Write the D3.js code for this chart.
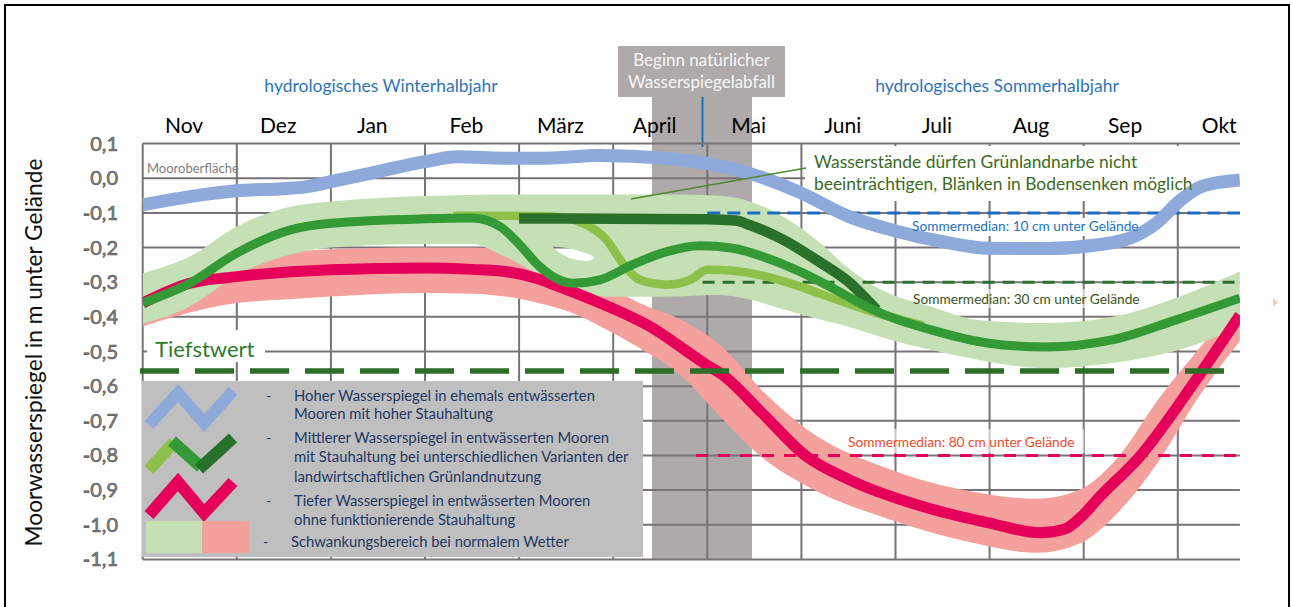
<!DOCTYPE html>
<html>
<head>
<meta charset="utf-8">
<script src="https://cdn.jsdelivr.net/npm/d3@7"></script>
<style>
  html, body { margin: 0; padding: 0; background: #fff; }
  svg { display: block; font-family: Lato, "Open Sans", sans-serif; }
</style>
</head>
<body>
<svg id="viz"></svg>
<script>
// ---- data (month position: 0 = start of Nov, value in m) ----
const months = ["Nov", "Dez", "Jan", "Feb", "März", "April", "Mai", "Juni", "Juli", "Aug", "Sep", "Okt"];
const yTicks = [0.1, 0, -0.1, -0.2, -0.3, -0.4, -0.5, -0.6, -0.7, -0.8, -0.9, -1.0, -1.1];

const blueLine = [[0, -0.077], [0.5, -0.053], [1, -0.036], [1.5, -0.03], [1.75, -0.024], [2, -0.01],
  [2.5, 0.019], [3, 0.048], [3.35, 0.062], [3.85, 0.058], [4.3, 0.058], [4.85, 0.066], [5.55, 0.058],
  [6, 0.043], [6.45, 0.014], [7, -0.043], [7.5, -0.11], [8, -0.152], [8.5, -0.183], [9, -0.202],
  [9.6, -0.203], [10.15, -0.192], [10.5, -0.172], [10.77, -0.13], [11.03, -0.063], [11.25, -0.024], [11.66, -0.005]];

const midGreenLine = [[0, -0.36], [0.5, -0.303], [1, -0.216], [1.57, -0.149], [2, -0.13], [3, -0.117],
  [3.5, -0.115], [3.8, -0.14], [4.0, -0.19], [4.2, -0.25], [4.36, -0.284], [4.57, -0.303], [4.86, -0.293],
  [5.2, -0.25], [5.57, -0.212], [5.92, -0.195], [6.27, -0.202], [6.63, -0.23], [6.98, -0.269],
  [7.33, -0.317], [7.69, -0.37], [7.85, -0.39], [8.37, -0.437], [8.99, -0.476], [9.6, -0.487],
  [10.31, -0.466], [10.99, -0.408], [11.66, -0.346]];

const lightGreenLine = [[3.3, -0.108], [3.8, -0.108], [4.33, -0.11], [4.68, -0.13], [4.93, -0.178],
  [5.1, -0.245], [5.28, -0.293], [5.57, -0.307], [5.82, -0.293], [6.0, -0.264], [6.27, -0.267],
  [6.63, -0.284], [6.98, -0.312], [7.33, -0.346], [7.69, -0.38], [8.05, -0.408], [8.3, -0.425]];

const darkGreenLine = [[4.0, -0.116], [5.0, -0.117], [6.0, -0.118], [6.3, -0.122], [6.45, -0.135],
  [6.81, -0.178], [7.16, -0.236], [7.52, -0.303], [7.73, -0.36], [7.8, -0.38]];

const redLine = [[0, -0.36], [0.5, -0.303], [1, -0.284], [2, -0.264], [3, -0.259], [3.5, -0.263],
  [3.85, -0.269], [4.2, -0.29], [4.33, -0.303], [4.86, -0.36], [5.39, -0.428], [6.0, -0.54],
  [6.15, -0.565], [6.58, -0.677], [7.05, -0.802], [7.5, -0.869], [8.4, -0.956], [9.0, -0.995],
  [9.54, -1.023], [9.8, -1.012], [10.0, -0.97], [10.15, -0.925], [10.6, -0.802], [11.17, -0.591],
  [11.66, -0.395]];

// bands: [month, upper, lower]
const greenBand = [[0, -0.274, -0.42], [0.5, -0.226, -0.37], [1, -0.139, -0.28], [1.57, -0.082, -0.22],
  [2, -0.067, -0.2], [3, -0.051, -0.19], [3.5, -0.048, -0.19], [3.8, -0.047, -0.22], [4.15, -0.047, -0.27],
  [4.5, -0.047, -0.332], [5.04, -0.047, -0.342], [5.57, -0.047, -0.342], [6.1, -0.05, -0.337],
  [6.45, -0.067, -0.35], [6.8, -0.11, -0.378], [7.16, -0.178, -0.405], [7.52, -0.264, -0.43],
  [7.87, -0.325, -0.46], [8.37, -0.37, -0.495], [8.9, -0.41, -0.525], [9.6, -0.418, -0.548],
  [10.31, -0.4, -0.533], [11.02, -0.341, -0.495], [11.66, -0.269, -0.43]];
const greenBandHole = [[4.363, -0.197], [4.576, -0.205], [4.753, -0.221], [4.796, -0.231],
  [4.718, -0.239], [4.541, -0.231], [4.417, -0.212]];

const redBand = [[0, -0.31, -0.428], [0.33, -0.29, -0.40], [1, -0.24, -0.36], [1.5, -0.215, -0.35],
  [2, -0.205, -0.341], [3, -0.2, -0.331], [3.5, -0.2, -0.333], [3.85, -0.207, -0.341], [4.2, -0.23, -0.36],
  [4.57, -0.27, -0.389], [4.93, -0.31, -0.437], [5.28, -0.36, -0.49], [5.73, -0.41, -0.572],
  [6.17, -0.49, -0.697], [6.61, -0.62, -0.812], [7.06, -0.725, -0.889], [7.94, -0.84, -0.985],
  [8.82, -0.905, -1.052], [9.5, -0.925, -1.081], [9.95, -0.9, -1.055], [10.38, -0.8, -0.96],
  [10.8, -0.635, -0.815], [11.2, -0.5, -0.64], [11.66, -0.35, -0.47]];

const medianValues = [-0.1, -0.3, -0.8];
const medianStart = [6.0, 5.95, 5.88];
const medianLabels = ["Sommermedian: 10 cm unter Gelände", "Sommermedian: 30 cm unter Gelände", "Sommermedian: 80 cm unter Gelände"];
const tiefstwert = -0.556;

const legendItems = [
  ["Hoher Wasserspiegel in ehemals entwässerten", "Mooren mit hoher Stauhaltung"],
  ["Mittlerer Wasserspiegel in entwässerten Mooren", "mit Stauhaltung bei unterschiedlichen Varianten der", "landwirtschaftlichen Grünlandnutzung"],
  ["Tiefer Wasserspiegel in entwässerten Mooren", "ohne funktionierende Stauhaltung"],
  ["Schwankungsbereich bei normalem Wetter"]
];

// ---- setup ----
const width = 1293, height = 607;
const svg = d3.select("#viz").attr("width", width).attr("height", height)
  .attr("viewBox", `0 0 ${width} ${height}`);

const x = d3.scaleLinear().domain([0, 12]).range([142.7, 1271.9]);
const y = d3.scaleLinear().domain([0.1, -1.1]).range([143.6, 559.4]);
const xEnd = 11.66;

const fmt = d3.formatLocale({decimal: ",", thousands: ".", grouping: [3], currency: ["", "€"], minus: "-"}).format(".1f");

const gridColor = "#777377";

svg.append("defs").append("clipPath").attr("id", "plotClip")
  .append("rect").attr("x", x(0)).attr("y", 90).attr("width", x(xEnd) - x(0)).attr("height", 500);

// frame
svg.append("rect").attr("x", 5).attr("y", 5).attr("width", 1284).attr("height", 620)
  .attr("fill", "#fff").attr("stroke", "#000").attr("stroke-width", 2);

// natural water level drop marker
svg.append("rect").attr("x", 652).attr("y", 97).attr("width", 100).attr("height", y(-1.1) - 97)
  .attr("fill", "#aeaaaa");
svg.append("rect").attr("x", 618).attr("y", 46).attr("width", 167).attr("height", 51)
  .attr("fill", "#aeaaaa");
svg.append("text").attr("x", 701.5).attr("y", 65.5).attr("text-anchor", "middle")
  .attr("font-size", 17).attr("fill", "#f7f7f7").text("Beginn natürlicher");
svg.append("text").attr("x", 701.5).attr("y", 87.5).attr("text-anchor", "middle")
  .attr("font-size", 17).attr("fill", "#f7f7f7").text("Wasserspiegelabfall");
svg.append("line").attr("x1", 702.5).attr("x2", 702.5).attr("y1", 97).attr("y2", 147)
  .attr("stroke", "#1f6fc0").attr("stroke-width", 2);

// grid
const grid = svg.append("g").attr("stroke", gridColor).attr("stroke-width", 2);
grid.selectAll("line.h").data(yTicks).join("line").attr("class", "h")
  .attr("x1", x(0)).attr("x2", x(xEnd)).attr("y1", d => y(d)).attr("y2", d => y(d));
grid.selectAll("line.v").data(d3.range(12)).join("line").attr("class", "v")
  .attr("x1", d => x(d)).attr("x2", d => x(d)).attr("y1", y(0.1)).attr("y2", y(-1.1));

// white boxes behind annotations
const boxes = svg.append("g").attr("fill", "#fff");
boxes.append("rect").attr("x", 147).attr("y", 330).attr("width", 118).attr("height", 32);
boxes.append("rect").attr("x", 805).attr("y", 146).attr("width", 435).attr("height", 55);
boxes.append("rect").attr("x", 906).attr("y", 218).attr("width", 236).attr("height", 18);
boxes.append("rect").attr("x", 906).attr("y", 289).attr("width", 236).attr("height", 19).attr("opacity", 0.6);
boxes.append("rect").attr("x", 846).attr("y", 429).attr("width", 238).attr("height", 24).attr("opacity", 0.6);

const plot = svg.append("g").attr("clip-path", "url(#plotClip)");

// bands
const bandArea = d3.area().x(d => x(d[0])).y0(d => y(d[2])).y1(d => y(d[1])).curve(d3.curveMonotoneX);
const holeLine = d3.line().x(d => x(d[0])).y(d => y(d[1])).curve(d3.curveCardinalClosed.tension(0.3));
plot.append("path").attr("d", bandArea(redBand)).attr("fill", "#f4a09d");
plot.append("path").attr("d", bandArea(greenBand) + holeLine(greenBandHole))
  .attr("fill", "#c5e0b4").attr("fill-rule", "evenodd");

// summer median dashed lines
const medianColors = ["#1a6cc0", "#2e7030", "#e5005a"];
const medianDash = ["13,7", "12,8", "12,10"];
plot.selectAll("line.median").data(medianValues).join("line").attr("class", "median")
  .attr("x1", (d, i) => x(medianStart[i])).attr("x2", x(xEnd))
  .attr("y1", d => y(d)).attr("y2", d => y(d))
  .attr("stroke", (d, i) => medianColors[i]).attr("stroke-width", 3)
  .attr("stroke-dasharray", (d, i) => medianDash[i]);

// annotation texts
const labelColors = ["#2272c3", "#375623", "#ee4b2b"];
const labelPos = [[912, 231], [913, 303.5], [848, 447]];
svg.selectAll("text.median").data(medianLabels).join("text").attr("class", "median")
  .attr("x", (d, i) => labelPos[i][0]).attr("y", (d, i) => labelPos[i][1])
  .attr("font-size", 13.7).attr("fill", (d, i) => labelColors[i]).text(d => d);

svg.append("text").attr("x", 814).attr("y", 168).attr("font-size", 17.4).attr("fill", "#3b6b23")
  .text("Wasserstände dürfen Grünlandnarbe nicht");
svg.append("text").attr("x", 814).attr("y", 190).attr("font-size", 17.4).attr("fill", "#3b6b23")
  .text("beeinträchtigen, Blänken in Bodensenken möglich");
svg.append("line").attr("x1", 631).attr("y1", 199).attr("x2", 806).attr("y2", 168)
  .attr("stroke", "#4e8a2e").attr("stroke-width", 1.6);

// curves
const curve = d3.line().x(d => x(d[0])).y(d => y(d[1])).curve(d3.curveMonotoneX);
const series = [
  {data: blueLine, color: "#8eaadb", w: 13},
  {data: redLine, color: "#e5005a", w: 11},
  {data: lightGreenLine, color: "#8dc149", w: 8.5},
  {data: darkGreenLine, color: "#28712a", w: 10.5},
  {data: midGreenLine, color: "#349a35", w: 9}
];
plot.selectAll("path.series").data(series).join("path").attr("class", "series")
  .attr("d", d => curve(d.data)).attr("fill", "none")
  .attr("stroke", d => d.color).attr("stroke-width", d => d.w);

// lowest value line
svg.append("line").attr("x1", 140).attr("x2", 1232).attr("y1", y(tiefstwert)).attr("y2", y(tiefstwert))
  .attr("stroke", "#2d6e26").attr("stroke-width", 5.5).attr("stroke-dasharray", "39,16");
svg.append("text").attr("x", 155).attr("y", 357).attr("font-size", 22).attr("fill", "#2e7d2e")
  .text("Tiefstwert");

svg.append("text").attr("x", 147).attr("y", 172.5).attr("font-size", 13).attr("fill", "#7f7f7f")
  .text("Mooroberfläche");

// legend
const legend = svg.append("g");
legend.append("rect").attr("x", 142).attr("y", 381).attr("width", 501).attr("height", 176).attr("fill", "#bfbfbf");
const zig = (pts, color) => legend.append("polyline").attr("points", pts.map(p => p.join(",")).join(" "))
  .attr("fill", "none").attr("stroke", color).attr("stroke-width", 12).attr("stroke-linejoin", "miter");
zig([[149, 425], [178, 393], [204, 423], [233, 391]], "#8eaadb");
zig([[149, 470], [174, 442]], "#8dc149");
zig([[172, 441], [201, 467]], "#349a35");
zig([[199, 469], [233, 438]], "#28712a");
zig([[149, 515], [178, 482], [204, 513], [233, 482]], "#e5005a");
legend.append("rect").attr("x", 146).attr("y", 521).attr("width", 56).attr("height", 32).attr("fill", "#c5e0b4");
legend.append("rect").attr("x", 202).attr("y", 521).attr("width", 47).attr("height", 32).attr("fill", "#f4a09d");

const legendBase = [[401, 419], [442.5, 462, 481.5], [506, 525], [547]];
legendItems.forEach((lines, i) => {
  const tx = i === 3 ? 291 : 294;
  legend.append("text").attr("x", tx - 28).attr("y", legendBase[i][0]).attr("font-size", 14)
    .attr("fill", "#1f3864").text("-");
  lines.forEach((t, j) => {
    legend.append("text").attr("x", tx).attr("y", legendBase[i][j]).attr("font-size", 14.8)
      .attr("fill", "#1f3864").text(t);
  });
});

// axes labels
svg.selectAll("text.ytick").data(yTicks).join("text").attr("class", "ytick")
  .attr("x", 118).attr("y", d => y(d) + 7).attr("text-anchor", "end")
  .attr("font-size", 20).attr("fill", "#858585").attr("stroke", "#505050").attr("stroke-width", 0.6)
  .text(d => fmt(d));

svg.selectAll("text.month").data(months).join("text").attr("class", "month")
  .attr("x", (d, i) => x(i + 0.44)).attr("y", 133).attr("text-anchor", "middle")
  .attr("font-size", 21).attr("fill", "#000").text(d => d);

svg.append("text").attr("transform", "translate(41.5,352.5) rotate(-90)").attr("text-anchor", "middle")
  .attr("font-size", 22.7).attr("fill", "#111").text("Moorwasserspiegel in m unter Gelände");

svg.append("text").attr("x", 381).attr("y", 92).attr("text-anchor", "middle")
  .attr("font-size", 17.5).attr("fill", "#2e75b6").text("hydrologisches Winterhalbjahr");
svg.append("text").attr("x", 997).attr("y", 92).attr("text-anchor", "middle")
  .attr("font-size", 17.5).attr("fill", "#2e75b6").text("hydrologisches Sommerhalbjahr");

svg.append("path").attr("d", "M1273,298 L1278,302.5 L1273,307 Z").attr("fill", "#f8cbad");
</script>
</body>
</html>
